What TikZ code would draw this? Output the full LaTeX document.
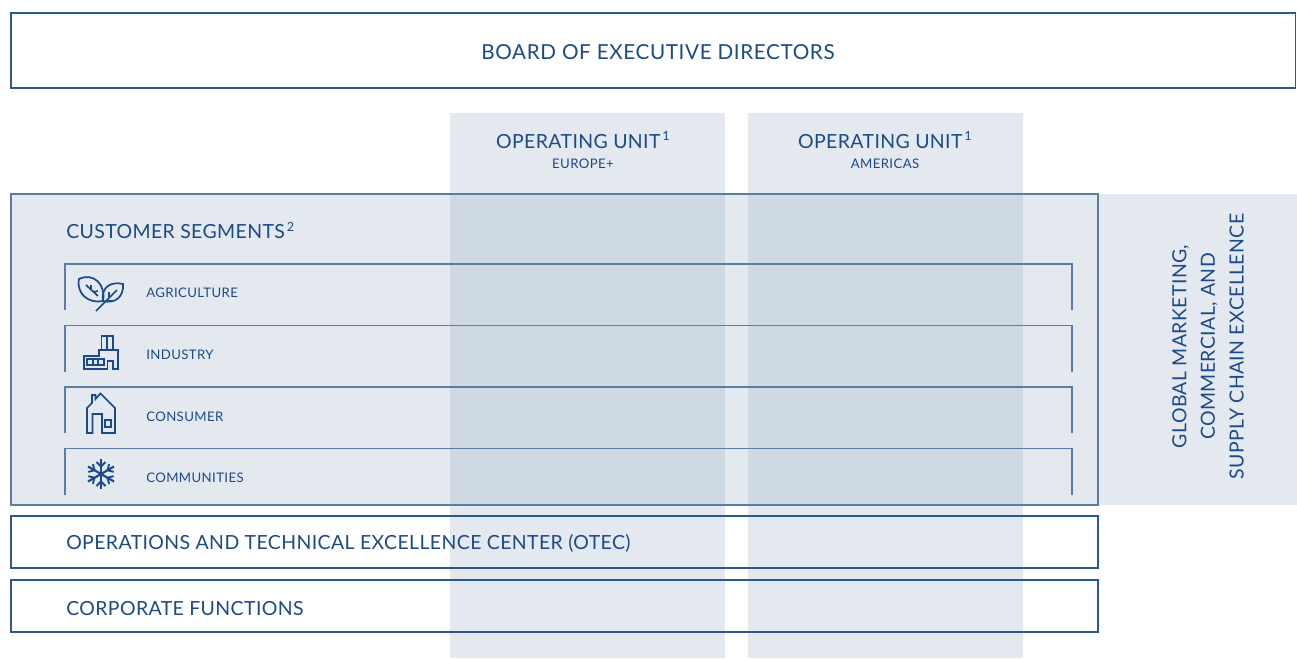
\documentclass[tikz,border=0pt]{standalone}
\usepackage{fontspec}
\setmainfont{Lato}[LetterSpace=3]
\newfontfamily\bigfam{Lato}[LetterSpace=2]
\definecolor{tb}{HTML}{1C4A86}
\definecolor{lb}{HTML}{2B5893}
\definecolor{sb}{HTML}{5A7CA5}
\definecolor{lf}{HTML}{E4E9F0}
\definecolor{df}{HTML}{CFD9E3}
\newcommand{\supone}[1]{\hspace{1.5pt}\raisebox{0.75ex}{\fontsize{9.5pt}{9.5pt}\selectfont #1}}
\begin{document}
\begin{tikzpicture}[x=0.75pt,y=-0.75pt,
  box/.style={draw=lb, line width=0.9pt},
  seg/.style={draw=sb, line width=0.9pt},
  icon/.style={draw=tb, line width=1.3pt, line join=miter},
  t/.style={text=tb, inner sep=0pt},
  fbig/.style={font=\bigfam\fontsize{14.6pt}{17pt}\selectfont},
  fboard/.style={font=\fontsize{15.5pt}{18pt}\selectfont},
  fsmall/.style={font=\fontsize{9.9pt}{12pt}\selectfont},
]
\useasboundingbox (0,0) rectangle (1297,658);
\fill[white] (0,0) rectangle (1297,658);
% board
\draw[box] (11,13) rectangle (1295.5,88);
\node[t,fboard,anchor=base] (board) at (658,59) {BOARD OF EXECUTIVE DIRECTORS};
% columns
\fill[lf] (450,113) rectangle (725,658);
\fill[lf] (748,113) rectangle (1023,658);
% segments area
\fill[lf] (11,194) rectangle (1297,505);
\fill[df] (450,194) rectangle (725,505);
\fill[df] (748,194) rectangle (1023,505);
\draw[seg] (11,194) rectangle (1098,505);
% brackets
\foreach \yy in {264,325.5,387,448.5}{
  \draw[seg] (65,\yy+46) -- (65,\yy) -- (1072,\yy) -- (1072,\yy+46);
}
% lower boxes
\draw[box] (11,516) rectangle (1098,568);
\draw[box] (11,580) rectangle (1098,632);
% headers
\node[t,fbig,anchor=base] (ou1) at (583,148) {OPERATING UNIT\supone{1}};
\node[t,fsmall,anchor=base] (eu) at (583,168.5) {EUROPE+};
\node[t,fbig,anchor=base] (ou2) at (885,148) {OPERATING UNIT\supone{1}};
\node[t,fsmall,anchor=base] (am) at (885,168.5) {AMERICAS};
% segments text
\node[t,fbig,anchor=base west] (cs) at (66,238.5) {CUSTOMER SEGMENTS\supone{2}};
\node[t,fsmall,anchor=base west] (agr) at (146,297.7) {AGRICULTURE};
\node[t,fsmall,anchor=base west] (ind) at (146,359.3) {INDUSTRY};
\node[t,fsmall,anchor=base west] (con) at (146,421) {CONSUMER};
\node[t,fsmall,anchor=base west] (com) at (146,482.5) {COMMUNITIES};
\node[t,fbig,anchor=base west] (otec) at (66,549) {OPERATIONS AND TECHNICAL EXCELLENCE CENTER (OTEC)};
\node[t,fbig,anchor=base west] (corp) at (66,615) {CORPORATE FUNCTIONS};
\node[t,align=center,rotate=90,font=\bigfam\fontsize{14.6pt}{21.4pt}\selectfont] (glob) at (1208,346.5) {GLOBAL MARKETING,\\COMMERCIAL, AND\\SUPPLY CHAIN EXCELLENCE};
% icons: agriculture leaves
\draw[icon] (79,279) .. controls (94,272) and (106,285) .. (103,301) .. controls (89,304) and (76,294) .. (79,279) -- cycle;
\draw[icon] (86,285) -- (98,296) (91,290) -- (91,285) (93,292) -- (98,291);
\draw[icon] (103,301) .. controls (101,287) and (111,281) .. (123,284) .. controls (124,297) and (115,304) .. (103,301);
\draw[icon] (96,311) -- (117,290) (109,298) -- (109,292) (106,301) -- (112,301);
% factory
\draw[icon] (84,369) -- (84,356) -- (99,356) -- (99,350) -- (118,350) -- (118,369) -- (113,369) -- (113,361) -- (107.5,361) -- (107.5,369) -- cycle;
\draw[icon] (101.5,350) -- (101.5,336) -- (113,336) -- (113,350) (107.25,336) -- (107.25,350);
\draw[icon] (87,359) rectangle (104,365) (92.7,359) -- (92.7,365) (98.3,359) -- (98.3,365);
% house
\draw[icon] (87,433) -- (87,408) -- (92,403) -- (92,395) -- (95.5,395) -- (95.5,399) -- (100.5,393.5) -- (115,408) -- (115,433) -- (102,433) -- (102,414) -- (92.5,414) -- (92.5,433) -- cycle;
\draw[icon] (105,420) rectangle (111,427);
% snowflake
\foreach \a in {30,90,...,330}{
  \begin{scope}[shift={(101,474)},rotate=\a]
    \draw[icon,line width=1.6pt] (0,0) -- (15,0);
    \draw[icon,line width=1.4pt] (7.5,0) -- (12,-4.5) (7.5,0) -- (12,4.5);
  \end{scope}
}
\end{tikzpicture}
\end{document}
